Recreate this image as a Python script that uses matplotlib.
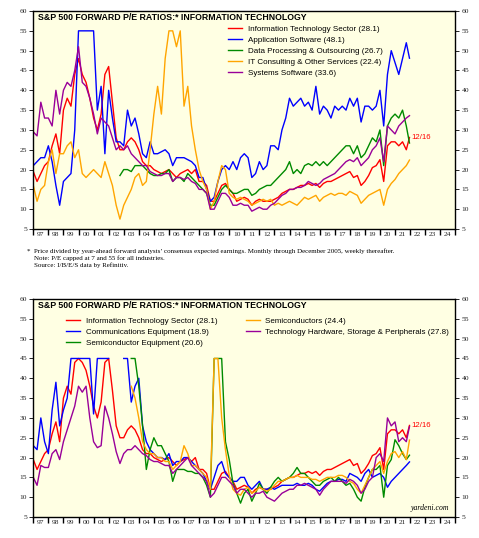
import numpy as np
import matplotlib
matplotlib.use("Agg")
import matplotlib.pyplot as plt

# quarterly readings, Q1 1997 .. Q4 2021, plus the last reading (12/16/21)
dates = np.append(np.arange(1997, 2022, 0.25), 2021.96)
nan = np.nan

it_sector = [
    19.5, 17, 19, 21,  22, 26, 29, 24,          # 97 98
    35, 38, 36, 44,  48, 44, 42, 38,            # 99 00
    33, 30, 34, 44,  46, 37, 28, 25,            # 01 02
    25, 27, 28, 27,  25, 22, 21, 21,            # 03 04
    20, 19.5, 19, 19.5,  20, 19, 18, 19,        # 05 06
    19.5, 20, 19, 20,  17, 17, 16, 12,          # 07 08
    12, 14, 16, 16.5,  15, 14, 12, 12.5,        # 09 10
    13, 12.5, 11, 12,  12.5, 12, 12, 12,        # 11 12
    12.5, 13, 14, 14.5,  15, 15, 15.5, 16,      # 13 14
    16, 16.5, 16, 16.5,  15.5, 16.5, 17, 17,    # 15 16
    17.5, 18, 18.5, 19,  19.5, 18, 18.5, 16,    # 17 18
    17, 18.5, 20.5, 21,  22.5, 17, 26, 27,      # 19 20
    27, 26, 27, 25,  28.1]                      # 21

app_software = [
    21, 22, 23, 23,  26, 22, 16, 11,
    17, 18, 19, 30,  55, 55, 55, 55,
    55, 35, 41, 24,  40, 33, 27, 27,
    26, 35, 31, 33,  29, 24, 23, 27,
    24, 24, 24.5, 25,  24, 21, 23, 23,
    23, 22.5, 22, 21,  18, 18, 15, 12,
    13, 17, 20, 21,  20, 22, 20, 23,
    24, 23, 18, 19,  22, 20, 21, 26,
    26, 25, 30, 33,  38, 36, 37, 38,
    36, 37, 35, 41,  34, 36, 35, 33,
    36, 35, 36, 35,  38, 36, 38, 32,
    36, 36, 35, 36,  40, 31, 44, 50,
    47, 44, 48, 52,  48.1]

data_processing = [
    nan, nan, nan, nan,  nan, nan, nan, nan,
    nan, nan, nan, nan,  nan, nan, nan, nan,
    nan, nan, nan, nan,  nan, nan, nan, 18.5,
    20, 20, 19.5, 21,  21, 21, 20, 19,
    18.5, 18.5, 19, 19,  20, 17, 18, 18,
    17, 19, 18, 17,  16, 15, 14, 11,
    11, 13, 15, 16,  15, 14, 14, 14.5,
    15, 15, 13.5, 14,  15, 15.5, 16, 16,
    17, 18, 19, 20,  22, 19, 20, 19,
    21, 21.5, 21, 22,  21, 22, 21, 22,
    23, 24, 25, 26,  26, 24, 26, 23,
    24, 26, 28, 27,  30, 21, 31, 33,
    34, 33, 35, 31,  26.7]

it_consulting = [
    16, 12, 15, 16,  22, 25, 19, 24,
    24, 26, 27, 23,  25, 19, 18, 19,
    20, 19, 18, 22,  19, 16, 11, 7.5,
    11, 13, 15, 18,  19, 16, 17, 25,
    34, 41, 34, 48,  55, 55, 51, 55,
    36, 41, 31, 25,  20, 17, 15, 10,
    12, 17, 21, 20,  14, 13, 12.5, 13,
    12.5, 12, 11, 11.5,  12, 12.5, 12, 12.5,
    11, 11.5, 11, 11.5,  12, 11.5, 11, 12,
    13, 12.5, 13, 13.5,  12, 13, 13.5, 14,
    13.5, 14, 14, 13.5,  14.5, 14, 13.5, 11.5,
    12.5, 13.5, 14, 14.5,  15, 11, 15, 16.5,
    17.5, 19, 20, 21,  22.4]

systems_software = [
    29.5, 28.5, 37, 33,  33, 31, 40, 34,
    40, 42, 41, 45,  51, 42, 41, 38,
    34, 29, 33, 32,  31, 28, 25, 26,
    25, 26, 24, 23,  22, 21, 21, 19.5,
    19, 18.5, 18.5, 19,  19, 17, 18, 18,
    17.5, 18, 17, 16.5,  15, 15, 14, 10,
    10, 12, 14, 14,  13, 11, 11, 11.5,
    11, 11, 9.5, 10,  10.5, 10, 10, 11,
    11.5, 12.5, 13.5, 14,  15, 15, 15.5, 15.5,
    16, 17, 16.5, 16,  16.5, 17.5, 18, 18.5,
    19, 20, 21, 22,  22.5, 22, 23, 21,
    22, 23, 25, 26,  28, 22, 31, 30,
    29, 31, 32, 33,  33.6]

comm_equipment = [
    23, 22, 30, 24,  21, 32, 39, 28,
    32, 35, 45, 45,  45, 45, 45, 45,
    31, 45, 45, 45,  45, nan, nan, nan,
    45, 45, 34, 38,  40, 28, 24, 22,
    21, 20, 20, 19.5,  21, 18, 19, 19,
    20, 20, 19, 18,  17, 16, 14, 12,
    15, 18, 19, 16,  15, 14, 14, 15,
    15, 13, 12, 13,  14, 12, 12, 12.5,
    12, 12.5, 13, 13,  13, 13, 13.5, 13,
    13, 13.5, 13, 12,  11.5, 12.5, 13.5, 14,
    14, 14.5, 14.5, 14,  16, 15.5, 15, 14,
    16, 17, 15, 15.5,  16, 15, 12.5, 14,
    15, 16, 17, 18,  18.9]

semi_equipment = [
    nan, nan, nan, nan,  nan, nan, nan, nan,
    nan, nan, nan, nan,  nan, nan, nan, nan,
    nan, nan, nan, nan,  nan, nan, nan, nan,
    nan, nan, 45, 45,  38, 28, 17, 22,
    25, 23, 23, 21,  19, 14, 17, 17,
    17, 16.5, 16.5, 16,  16, 15, 13, 10,
    45, 45, 45, 24,  19.5, 13.5, 11, 8.5,
    11, 12, 9, 11,  13.5, 12, 11, 12.5,
    14, 15, 14, 14.5,  15, 16, 17.5, 16,
    16, 15, 14, 13,  13, 14, 14.5, 15,
    14, 15, 14, 13,  13.5, 12, 10, 9,
    12.5, 15, 17, 17,  18, 10, 18, 19.5,
    24.5, 23, 21, 19.5,  20.6]

semiconductors = [
    nan, nan, nan, nan,  nan, nan, nan, nan,
    nan, nan, nan, nan,  nan, nan, nan, nan,
    nan, nan, nan, nan,  nan, nan, nan, nan,
    nan, nan, 38, 35,  30, 24, 22, 21,
    21, 20, 20, 19,  19, 17, 18, 19,
    23, 21, 18, 18,  17, 16, 15, 12,
    45, 45, 30, 22,  15.5, 12, 11, 10.5,
    12, 12.5, 11, 11.5,  12.5, 12, 11.5, 12,
    13, 14, 14, 14.5,  15, 15, 15.5, 15,
    15, 15, 14.5, 14.5,  14, 14.5, 15, 15,
    15, 15.5, 15.5, 15,  14, 13.5, 12, 11,
    13, 15, 17, 18,  19, 16, 19, 21,
    21.5, 20, 21.5, 19.5,  24.4]

tech_hardware = [
    15, 13, 18, 17.5,  17.5, 21, 22, 19.5,
    24, 27, 30, 33,  38, 36.5, 38, 30,
    24, 22.5, 23, 33,  30, 26, 21.5, 18.5,
    21, 22, 22, 23,  22, 21, 20.5, 19.5,
    19, 19, 18.5, 18,  18, 16, 17, 18,
    19, 20, 18, 17,  16, 15, 14, 10,
    11, 13, 15, 15,  14, 13, 11, 12,
    12, 11, 10, 11,  11, 11.5, 10, 9.5,
    9, 10, 11, 11.5,  12, 12, 13, 13,
    13.5, 13, 12.5, 12,  10.5, 12, 13, 14,
    14, 14, 14, 13.5,  14.5, 14, 13, 11,
    12, 14, 15, 20,  21, 19, 30, 28,
    29, 24, 25, 24,  27.8]

top_series = [
    ("Information Technology Sector (28.1)", it_sector, "#ff0000"),
    ("Application Software (48.1)", app_software, "#0000ff"),
    ("Data Processing & Outsourcing (26.7)", data_processing, "#008a00"),
    ("IT Consulting & Other Services (22.4)", it_consulting, "#ffa500"),
    ("Systems Software (33.6)", systems_software, "#990099"),
]
bottom_series = [
    ("Information Technology Sector (28.1)", it_sector, "#ff0000"),
    ("Communications Equipment (18.9)", comm_equipment, "#0000ff"),
    ("Semiconductor Equipment (20.6)", semi_equipment, "#008a00"),
    ("Semiconductors (24.4)", semiconductors, "#ffa500"),
    ("Technology Hardware, Storage & Peripherals (27.8)", tech_hardware, "#990099"),
]

TITLE = "S&P 500 FORWARD P/E RATIOS:* INFORMATION TECHNOLOGY"
years = np.arange(1997, 2026)
SERIF = "Liberation Serif"
SANS = "Liberation Sans"


def style_axes(ax):
    ax.set_facecolor("#ffffe3")
    ax.set_xlim(1997, 2025)
    ax.set_ylim(5, 60)
    ax.set_yticks(np.arange(5, 61, 5))
    ax.set_xticks(years)
    ax.set_xticklabels([])
    ax.set_xticks(years[:-1] + 0.5, minor=True)
    ax.set_xticklabels(["%02d" % (y % 100) for y in years[:-1]], minor=True)
    ax.tick_params(axis="y", which="major", direction="out", length=3, width=0.6,
                   left=True, right=True, labelleft=True, labelright=True,
                   labelsize=5.4, pad=1.5)
    ax.tick_params(axis="x", which="major", direction="out", length=4, width=1.0)
    ax.tick_params(axis="x", which="minor", length=0, labelsize=5.4, pad=2)
    for lab in ax.get_yticklabels() + ax.get_xticklabels(minor=True):
        lab.set_fontfamily(SERIF)
        lab.set_color("#222222")
    for sp in ax.spines.values():
        sp.set_linewidth(1.0)
    ax.text(0.012, 0.972, TITLE, transform=ax.transAxes, ha="left", va="center",
            fontsize=6.3, fontweight="bold", family=SANS)


fig = plt.figure(figsize=(4.79, 5.38), dpi=100)
ax1 = fig.add_axes([0.0695, 0.5743, 0.881, 0.4052])
ax2 = fig.add_axes([0.0695, 0.0390, 0.881, 0.4052])

for label, vals, col in top_series:
    ax1.plot(dates, vals, color=col, lw=1.0, label=label)
for label, vals, col in bottom_series:
    # bottom chart is capped at 45
    ax2.plot(dates, np.minimum(np.array(vals, dtype=float), 45), color=col, lw=1.0, label=label)

style_axes(ax1)
style_axes(ax2)

ax1.legend(loc="upper left", bbox_to_anchor=(0.462, 0.935), frameon=False,
           prop={"family": SANS, "size": 5.8}, handlelength=1.75, handletextpad=0.65,
           labelspacing=0.42, borderpad=0, borderaxespad=0)
ax2.legend(loc="upper left", bbox_to_anchor=(0.078, 0.918), frameon=False, ncol=2,
           prop={"family": SANS, "size": 5.8}, handlelength=1.75, handletextpad=0.65,
           labelspacing=0.42, borderpad=0, borderaxespad=0, columnspacing=3.6)

for ax in (ax1, ax2):
    ax.text(2022.1, 28.2, "12/16", color="#ff0000", fontsize=5.6, family=SANS,
            ha="left", va="center")

ax2.text(0.985, 0.025, "yardeni.com", transform=ax2.transAxes, ha="right", va="bottom",
         fontsize=5.6, family=SERIF, style="italic")

fig.text(27 / 479, 1 - 251 / 538, "*", fontsize=5.0, family=SERIF, va="center")
notes = ["Price divided by year-ahead forward analysts\u2019 consensus expected earnings. "
         "Monthly through December 2005, weekly thereafter.",
         "Note: P/E capped at 7 and 55 for all industries.",
         "Source: I/B/E/S data by Refinitiv."]
for i, line in enumerate(notes):
    fig.text(34 / 479, 1 - (251 + 7 * i) / 538, line, fontsize=5.0, family=SERIF,
             va="center")

fig.savefig("out.png", dpi=100)
